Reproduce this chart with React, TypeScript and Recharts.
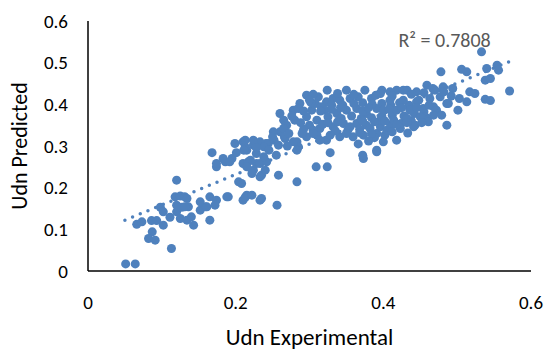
import { ScatterChart, Scatter, XAxis, YAxis, ZAxis, ReferenceLine, ReferenceDot } from "recharts";

const udnExperimental = [
  0.051, 0.064, 0.113, 0.087, 0.082, 0.091, 0.066, 0.073, 0.086, 0.093,
  0.102, 0.098, 0.102, 0.111, 0.120, 0.125, 0.134, 0.143, 0.140, 0.152,
  0.165, 0.118, 0.125, 0.131, 0.120, 0.127, 0.136, 0.120, 0.152, 0.159,
  0.165, 0.174, 0.190, 0.210, 0.215, 0.233, 0.204, 0.208, 0.168, 0.174,
  0.186, 0.195, 0.199, 0.210, 0.224, 0.201, 0.210, 0.217, 0.224, 0.228,
  0.215, 0.228, 0.213, 0.237, 0.244, 0.183, 0.174, 0.192, 0.233, 0.242,
  0.235, 0.222, 0.260, 0.267, 0.267, 0.188, 0.213, 0.256, 0.134, 0.172,
  0.161, 0.131,
  0.296, 0.324, 0.350, 0.375, 0.312, 0.308, 0.323, 0.332, 0.341, 0.355,
  0.366, 0.384, 0.287, 0.278, 0.285, 0.260, 0.265, 0.280, 0.269, 0.303,
  0.321, 0.296, 0.310, 0.337, 0.350, 0.364, 0.377, 0.391, 0.314, 0.332,
  0.346, 0.364, 0.377, 0.310, 0.323, 0.341, 0.359, 0.373, 0.391, 0.314,
  0.296, 0.283, 0.285, 0.251, 0.265, 0.252, 0.266, 0.241, 0.233, 0.224,
  0.213, 0.211, 0.220, 0.215, 0.238, 0.240, 0.233, 0.258, 0.283, 0.238,
  0.258, 0.278, 0.283, 0.309, 0.324, 0.328, 0.373, 0.391, 0.222, 0.235,
  0.398, 0.418, 0.432, 0.445, 0.459, 0.372, 0.391, 0.418, 0.433, 0.443,
  0.459, 0.330, 0.345, 0.360, 0.372, 0.385, 0.398, 0.410, 0.422, 0.435,
  0.448, 0.325, 0.343, 0.357, 0.370, 0.384, 0.398, 0.412, 0.428, 0.442,
  0.455, 0.335, 0.352, 0.368, 0.382, 0.396, 0.410, 0.424, 0.438, 0.300,
  0.305, 0.292, 0.318, 0.302, 0.316, 0.388, 0.402, 0.380, 0.366,
  0.533, 0.478, 0.506, 0.513, 0.540, 0.554, 0.556, 0.538, 0.545, 0.571,
  0.538, 0.545, 0.517, 0.524, 0.503, 0.513, 0.486, 0.501, 0.486, 0.461,
  0.467, 0.481, 0.494, 0.427, 0.409, 0.396, 0.400, 0.409, 0.427, 0.445,
  0.463, 0.477, 0.400, 0.418, 0.436, 0.454, 0.472, 0.396, 0.414, 0.432,
  0.450, 0.468, 0.405, 0.423, 0.441, 0.470, 0.488, 0.479, 0.468,
  0.305, 0.338, 0.360, 0.390, 0.412, 0.438, 0.455, 0.315, 0.330, 0.342,
  0.372, 0.380, 0.408, 0.425, 0.445, 0.462, 0.288, 0.325, 0.338, 0.355,
  0.372, 0.388, 0.402, 0.418, 0.432, 0.452, 0.272, 0.290, 0.305, 0.328,
  0.350, 0.368, 0.384, 0.412, 0.245, 0.255, 0.270, 0.228, 0.250, 0.276,
  0.292, 0.300, 0.492, 0.482,
];

const udnPredicted = [
  0.017, 0.017, 0.054, 0.094, 0.078, 0.074, 0.112, 0.118, 0.121, 0.121,
  0.110, 0.153, 0.142, 0.129, 0.142, 0.126, 0.122, 0.110, 0.130, 0.146,
  0.122, 0.178, 0.180, 0.178, 0.158, 0.153, 0.154, 0.218, 0.166, 0.154,
  0.178, 0.170, 0.178, 0.170, 0.182, 0.170, 0.214, 0.210, 0.284, 0.250,
  0.262, 0.270, 0.306, 0.310, 0.302, 0.284, 0.258, 0.262, 0.242, 0.258,
  0.290, 0.282, 0.298, 0.302, 0.306, 0.270, 0.258, 0.262, 0.258, 0.262,
  0.230, 0.234, 0.334, 0.346, 0.318, 0.178, 0.177, 0.158, 0.174, 0.158,
  0.154, 0.154,
  0.422, 0.434, 0.434, 0.434, 0.418, 0.402, 0.406, 0.414, 0.410, 0.414,
  0.418, 0.414, 0.402, 0.386, 0.390, 0.378, 0.362, 0.362, 0.350, 0.386,
  0.386, 0.370, 0.362, 0.378, 0.386, 0.390, 0.378, 0.390, 0.342, 0.346,
  0.354, 0.354, 0.350, 0.326, 0.314, 0.322, 0.322, 0.326, 0.330, 0.314,
  0.322, 0.310, 0.298, 0.334, 0.342, 0.314, 0.322, 0.306, 0.310, 0.314,
  0.314, 0.290, 0.266, 0.250, 0.274, 0.242, 0.226, 0.230, 0.214, 0.298,
  0.302, 0.310, 0.290, 0.250, 0.250, 0.284, 0.270, 0.286, 0.182, 0.174,
  0.434, 0.434, 0.434, 0.430, 0.446, 0.278, 0.290, 0.314, 0.331, 0.350,
  0.367, 0.398, 0.398, 0.402, 0.404, 0.400, 0.402, 0.398, 0.404, 0.398,
  0.410, 0.370, 0.366, 0.372, 0.366, 0.368, 0.372, 0.374, 0.372, 0.378,
  0.382, 0.336, 0.338, 0.340, 0.342, 0.346, 0.350, 0.354, 0.360, 0.350,
  0.338, 0.340, 0.352, 0.404, 0.394, 0.320, 0.326, 0.312, 0.305,
  0.526, 0.478, 0.484, 0.478, 0.486, 0.494, 0.482, 0.458, 0.462, 0.432,
  0.412, 0.409, 0.430, 0.426, 0.414, 0.406, 0.402, 0.386, 0.350, 0.358,
  0.438, 0.442, 0.438, 0.434, 0.430, 0.426, 0.310, 0.410, 0.410, 0.406,
  0.414, 0.418, 0.386, 0.386, 0.386, 0.390, 0.386, 0.362, 0.362, 0.366,
  0.370, 0.374, 0.338, 0.342, 0.346, 0.434, 0.402, 0.374, 0.394,
  0.424, 0.426, 0.424, 0.422, 0.420, 0.424, 0.428, 0.384, 0.388, 0.392,
  0.384, 0.392, 0.388, 0.392, 0.392, 0.398, 0.356, 0.356, 0.358, 0.346,
  0.360, 0.358, 0.360, 0.352, 0.356, 0.356, 0.330, 0.330, 0.330, 0.326,
  0.330, 0.332, 0.330, 0.334, 0.290, 0.278, 0.300, 0.296, 0.322, 0.372,
  0.384, 0.410, 0.420, 0.430,
];

const xTicks = [0, 0.2, 0.4, 0.6];
const yTicks = [0, 0.1, 0.2, 0.3, 0.4, 0.5, 0.6];

// linear trendline ends, as Excel draws it
const trendStart = { x: 0.05, y: 0.122 };
const trendEnd = { x: 0.57, y: 0.502 };
const rSquaredText = "R² = 0.7808";

const BLUE = "#4F81BD";
const FONT = "Calibri, Carlito, Lato, sans-serif";

export default function App() {
  const points = udnExperimental.map((x, i) => ({ x, y: udnPredicted[i] }));

  return (
    <div style={{ position: "absolute", left: 0, top: 0, background: "#fff" }}>
      <ScatterChart
        width={548}
        height={354}
        margin={{ top: 21, right: 17, bottom: 0, left: 0 }}
        style={{ fontFamily: FONT }}
      >
        <XAxis
          type="number"
          dataKey="x"
          domain={[0, 0.6]}
          ticks={xTicks}
          height={83}
          tickLine={false}
          tickSize={0}
          tickMargin={25}
          axisLine={{ stroke: "#000", strokeWidth: 1.5 }}
          tick={{ fill: "#000", fontSize: 19, fontFamily: FONT }}
          label={{
            value: "Udn Experimental",
            position: "insideBottom",
            offset: 9,
            style: { fontSize: 23, fill: "#000", fontFamily: FONT },
          }}
        />
        <YAxis
          type="number"
          dataKey="y"
          domain={[0, 0.6]}
          ticks={yTicks}
          width={88}
          tickLine={false}
          tickSize={0}
          tickMargin={20}
          axisLine={{ stroke: "#000", strokeWidth: 1.5 }}
          tick={{ fill: "#000", fontSize: 19, fontFamily: FONT }}
          label={{
            value: "Udn Predicted",
            angle: -90,
            position: "insideLeft",
            offset: 19,
            style: { fontSize: 22, fill: "#000", fontFamily: FONT, textAnchor: "middle" },
          }}
        />
        <ZAxis range={[80, 80]} />
        <Scatter data={points} fill={BLUE} isAnimationActive={false} />
        <ReferenceLine
          segment={[trendStart, trendEnd]}
          stroke={BLUE}
          strokeWidth={3.5}
          strokeDasharray="0 8.3"
          strokeLinecap="round"
        />
        <ReferenceDot
          x={0.483}
          y={0.554}
          r={0}
          fill="none"
          stroke="none"
          label={{
            value: rSquaredText,
            position: "center",
            style: { fontSize: 20, fill: "#595959", fontFamily: FONT },
          }}
        />
      </ScatterChart>
    </div>
  );
}
